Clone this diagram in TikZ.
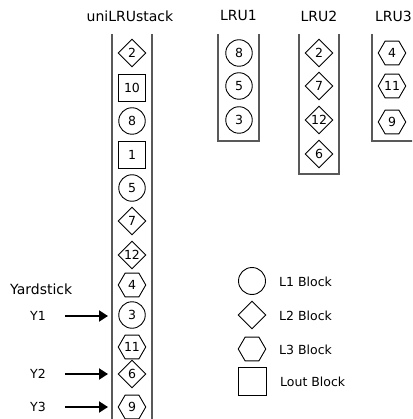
\documentclass[tikz,border=0pt]{standalone}
\usepackage{fontspec}
\setmainfont{DejaVu Sans}
\usetikzlibrary{shapes.geometric,arrows.meta}
\tikzset{
  blk/.style={draw=black,line width=0.9pt,inner sep=0pt,font=\fontsize{12.5}{13}\selectfont},
  lone/.style={blk,circle,minimum size=26.5pt},
  ltwo/.style={blk,diamond,minimum width=28pt,minimum height=28pt},
  lthree/.style={blk,regular polygon,regular polygon sides=6,minimum size=27.5pt},
  lout/.style={blk,rectangle,minimum size=26.5pt},
  wall/.style={draw=black!65,line width=1.5pt},
  title/.style={inner sep=0pt,font=\fontsize{14}{16}\selectfont},
  leg/.style={inner sep=0pt,anchor=west,font=\fontsize{12.5}{14}\selectfont},
  ylab/.style={inner sep=0pt,font=\fontsize{12.5}{14}\selectfont},
  yarrow/.style={line width=2pt,-{Triangle[length=9pt,width=11pt]}}
}
\begin{document}
\begin{tikzpicture}[x=1pt,y=-1pt]
\useasboundingbox (0,0) rectangle (412,419);
\clip (0,0) rectangle (412,419);
% titles
\node[title] (tu) at (130,16) {uniLRUstack};
\node[title] (t1) at (238.5,16) {LRU1};
\node[title] (t2) at (319,16) {LRU2};
\node[title] (t3) at (393.5,16) {LRU3};
% walls
\draw[wall] (112,34) -- (112,425);
\draw[wall] (152,34) -- (152,425);
\draw[wall] (218,34) -- (218,141) -- (259,141) -- (259,34);
\draw[wall] (299,34) -- (299,174) -- (339,174) -- (339,34);
\draw[wall] (372,34) -- (372,141) -- (414,141) -- (414,34);
% uniLRU stack
\node[ltwo]   (u2)  at (132,53)  {2};
\node[lout]   (u10) at (132,88)  {10};
\node[lone]   (u8)  at (132,121) {8};
\node[lout]   (u1)  at (132,155) {1};
\node[lone]   (u5)  at (132,188) {5};
\node[ltwo]   (u7)  at (132,221) {7};
\node[ltwo]   (u12) at (132,255) {12};
\node[lthree] (u4)  at (132,285) {4};
\node[lone]   (u3)  at (132,315) {3};
\node[lthree] (u11) at (132,347) {11};
\node[ltwo]   (u6)  at (132,374) {6};
\node[lthree] (u9)  at (132,407) {9};
% LRU1
\node[lone] (a8) at (239,53)  {8};
\node[lone] (a5) at (239,86)  {5};
\node[lone] (a3) at (239,120) {3};
% LRU2
\node[ltwo] (b2)  at (319,53)  {2};
\node[ltwo] (b7)  at (319,86)  {7};
\node[ltwo] (b12) at (319,120) {12};
\node[ltwo] (b6)  at (319,154) {6};
% LRU3
\node[lthree] (c4)  at (392,53)  {4};
\node[lthree] (c11) at (392,86)  {11};
\node[lthree] (c9)  at (392,122) {9};
% yardstick
\node[inner sep=0pt,anchor=west,font=\fontsize{14}{16}\selectfont] (ys) at (10,289) {Yardstick};
\node[ylab] (y1) at (38,316) {Y1};
\node[ylab] (y2) at (38,374) {Y2};
\node[ylab] (y3) at (38,407) {Y3};
\coordinate (e1) at (108,316);
\coordinate (e2) at (108,374);
\coordinate (e3) at (108,407);
\draw[yarrow] ([xshift=19pt]y1.east) -- (e1);
\draw[yarrow] ([xshift=19pt]y2.east) -- (e2);
\draw[yarrow] ([xshift=19pt]y3.east) -- (e3);
% legend
\node[lone,minimum size=27pt] (g1) at (252,281) {};
\node[ltwo]   (g2) at (252,315) {};
\node[lthree] (g3) at (252,349) {};
\node[lout,minimum size=28pt] (g4) at (252,381) {};
\node[leg] (l1) at (279,282) {L1 Block};
\node[leg] (l2) at (279,316) {L2 Block};
\node[leg] (l3) at (279,350) {L3 Block};
\node[leg] (l4) at (280,382) {Lout Block};
\end{tikzpicture}
\end{document}
